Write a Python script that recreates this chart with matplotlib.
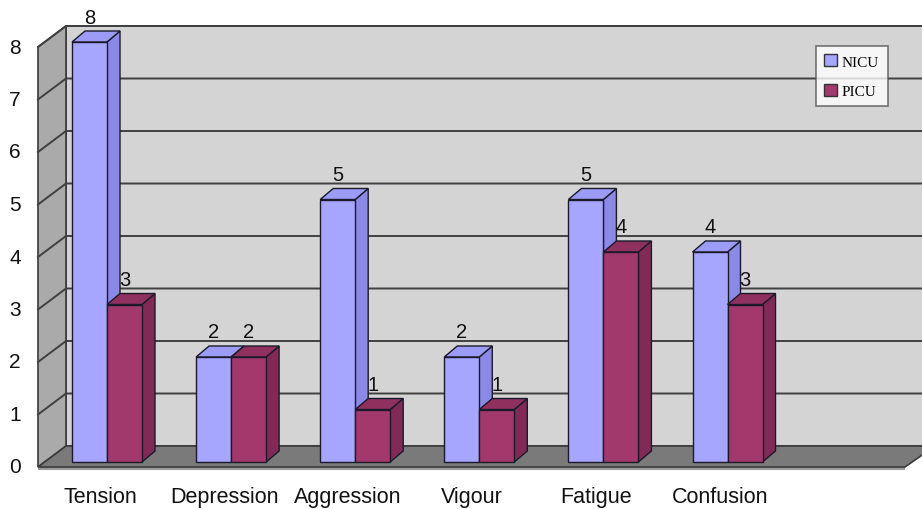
import matplotlib
matplotlib.use('Agg')
import matplotlib.pyplot as plt
from matplotlib.patches import Polygon, Patch

categories = ['Tension', 'Depression', 'Aggression', 'Vigour', 'Fatigue', 'Confusion']
nicu = [8, 2, 5, 2, 5, 4]
picu = [3, 2, 1, 1, 4, 3]
series_names = ['NICU', 'PICU']
yticks = [0, 1, 2, 3, 4, 5, 6, 7, 8]

plt.rcParams['font.family'] = ['Liberation Sans', 'DejaVu Sans']

W, H = 922, 510
fig = plt.figure(figsize=(W / 100, H / 100), dpi=100)
ax = fig.add_axes([0, 0, 1, 1])
PX_X, PX_Y = 124.1, 52.5   # pixels per category / per unit
X0, Y0 = 107, 463          # pixel of first group centre / bar baseline
ax.set_xlim((0 - X0) / PX_X, (W - X0) / PX_X)
ax.set_ylim((Y0 - H) / PX_Y, Y0 / PX_Y)
ax.axis('off')


def dx(p):
    return p / PX_X


def dy(p):
    return p / PX_Y


ymax = max(yticks)
# wall geometry
yf0 = dy(-5)      # front plane baseline
yb0 = dy(16)      # back plane baseline
xlf = dx(38 - X0)
xlb = dx(66 - X0)
xrf = dx(905 - X0)
xrb = dx(935 - X0)

edge = '#3a3a3a'
# back wall
ax.add_patch(Polygon([(xlb, yb0), (xrb + 1, yb0), (xrb + 1, yb0 + ymax), (xlb, yb0 + ymax)],
                     closed=True, facecolor='#d4d4d4', edgecolor=edge, lw=1.2, zorder=1))
# left wall
ax.add_patch(Polygon([(xlf, yf0), (xlf, yf0 + ymax), (xlb, yb0 + ymax), (xlb, yb0)],
                     closed=True, facecolor='#aaaaaa', edgecolor=edge, lw=1.2, zorder=1))
# gridlines
for v in yticks[1:]:
    ax.plot([xlf, xlb, xrb + 1], [yf0 + v, yb0 + v, yb0 + v], color='#404040', lw=1.4, zorder=2)
# floor slab (front thickness + top)
ax.add_patch(Polygon([(xlf, yf0), (xrf, yf0), (xrf, yf0 - dy(3)), (xlf, yf0 - dy(3))],
                     closed=True, facecolor='#9a9a9a', edgecolor='none', zorder=3))
ax.add_patch(Polygon([(xlf, yf0), (xrf, yf0), (xrb, yb0), (xlb, yb0)],
                     closed=True, facecolor='#7a7a7a', edgecolor=edge, lw=1.2, zorder=3))

# tick labels
for v in yticks:
    ax.text(dx(15 - X0), yf0 + v, str(v), ha='center', va='center', fontsize=15, color='#111111', zorder=10)

colors = {
    'NICU': ('#a6a6ff', '#8a8ae6', '#9c9cf7'),
    'PICU': ('#a3386c', '#822a56', '#90305f'),
}
bw = dx(35)
ddx, ddy = dx(13), dy(11)


def bar3d(x, h, cols, z):
    front, side, top = cols
    # side
    ax.add_patch(Polygon([(x + bw, 0), (x + bw + ddx, ddy), (x + bw + ddx, h + ddy), (x + bw, h)],
                         closed=True, facecolor=side, edgecolor='#1a1a2a', lw=1.0, zorder=z))
    # top
    ax.add_patch(Polygon([(x, h), (x + bw, h), (x + bw + ddx, h + ddy), (x + ddx, h + ddy)],
                         closed=True, facecolor=top, edgecolor='#1a1a2a', lw=1.0, zorder=z))
    # front
    ax.add_patch(Polygon([(x, 0), (x + bw, 0), (x + bw, h), (x, h)],
                         closed=True, facecolor=front, edgecolor='#1a1a2a', lw=1.0, zorder=z))


for i, cat in enumerate(categories):
    bar3d(i - bw, nicu[i], colors['NICU'], 4 + i * 2)
    bar3d(i, picu[i], colors['PICU'], 5 + i * 2)
    ax.text(i - bw / 2, nicu[i] + dy(25), str(nicu[i]), ha='center', va='center', fontsize=14.5,
            color='#111111', zorder=20)
    ax.text(i + bw / 2, picu[i] + dy(25), str(picu[i]), ha='center', va='center', fontsize=14.5,
            color='#111111', zorder=20)
    ax.text(i + dx(-7), dy(-35), cat, ha='center', va='center', fontsize=15.5, color='#111111', zorder=10)

handles = [Patch(facecolor=colors[n][0], edgecolor='#333333', lw=1.0) for n in series_names]
leg = ax.legend(handles, series_names, loc='upper left', bbox_to_anchor=(816 / W, 1 - 47 / H),
                bbox_transform=fig.transFigure, frameon=True, fancybox=False,
                prop={'family': 'Liberation Serif', 'size': 11},
                handlelength=0.8, handleheight=0.8, handletextpad=0.35,
                labelspacing=1.0, borderpad=0.55, borderaxespad=0)
leg.get_frame().set_edgecolor('#555555')
leg.get_frame().set_linewidth(1.2)
leg.set_zorder(30)

fig.savefig('out.png', dpi=100)
